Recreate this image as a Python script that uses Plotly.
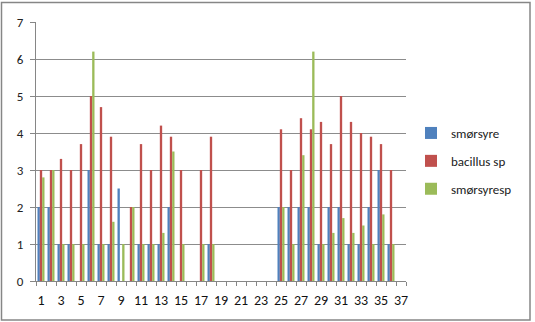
import plotly.graph_objects as go

categories = list(range(1, 38))
smorsyre = [2, 2, 1, 1, None, 3, 1, 1, 2.5, None, 1, 1, 1, 2, None, None, None, 1,
            None, None, None, None, None, None,
            2, 2, 2, 2, 1, 2, 2, 1, 1, 2, 3, 1, None]
bacillus = [3, 3, 3.3, 3, 3.7, 5, 4.7, 3.9, None, 2, 3.7, 3, 4.2, 3.9, 3, None, 3, 3.9,
            None, None, None, None, None, None,
            4.1, 3, 4.4, 4.1, 4.3, 3.7, 5, 4.3, 4, 3.9, 3.7, 3, None]
smorsyresp = [2.8, 3, 1, 1, 1, 6.2, 1, 1.6, 1, 2, 1, 1, 1.3, 3.5, 1, None, 1, 1,
              None, None, None, None, None, None,
              2, 1, 3.4, 6.2, 1, 1.3, 1.7, 1.3, 1.5, 1, 1.8, 1, None]
series_names = ["smørsyre", "bacillus sp", "smørsyresp"]
colors = ["#4F81BD", "#C0504D", "#9BBB59"]
x_ticks = list(range(1, 38, 2))
y_ticks = list(range(0, 8))

W, H = 535, 322
L, R, T, B = 36, 406, 22, 281

fig = go.Figure()
for name, vals, c in zip(series_names, [smorsyre, bacillus, smorsyresp], colors):
    fig.add_trace(go.Bar(x=categories, y=vals, name=name, marker_color=c,
                         marker_line_width=0, legendgroup=name))

font = "Carlito, Calibri, Lato, sans-serif"
fig.update_layout(
    width=W, height=H,
    margin=dict(l=L, r=W - R, t=T, b=H - B),
    plot_bgcolor="white", paper_bgcolor="white",
    barmode="group", bargap=0.3, bargroupgap=0,
    font=dict(family=font, size=13, color="#222"),
    showlegend=True,
    legend=dict(x=(411 - L) / (R - L), xanchor="left", y=(B - 161) / (B - T), yanchor="middle",
                font=dict(size=13, color="#222"), itemwidth=30, tracegroupgap=8,
                bgcolor="rgba(0,0,0,0)"),
    xaxis=dict(range=[0.5, 37.5], tickmode="array", tickvals=x_ticks,
               ticktext=[str(v) for v in x_ticks], ticks="", showgrid=False,
               showline=True, linecolor="#868686", linewidth=1,
               tickfont=dict(size=14, color="#111"), ticklabelstandoff=6,
               minor=dict(tick0=0.5, dtick=1, ticks="outside", ticklen=4,
                          tickcolor="#868686", showgrid=False),
               zeroline=False, fixedrange=True),
    yaxis=dict(range=[0, 7], tickmode="array", tickvals=y_ticks, ticks="outside",
               ticklen=5, tickcolor="#868686", showgrid=True, gridcolor="#8c8c8c",
               gridwidth=1, showline=True, linecolor="#868686", linewidth=1,
               ticklabelstandoff=4,
               zeroline=False, tickfont=dict(size=13, color="#222"), fixedrange=True),
)

# outer chart-area border
pw, ph = R - L, B - T
fig.add_shape(type="rect", xref="paper", yref="paper",
              x0=(1.5 - L) / pw, x1=(530 - L) / pw,
              y0=(B - 320) / ph, y1=(B - 2.5) / ph,
              line=dict(color="#868686", width=1.5), fillcolor="rgba(0,0,0,0)", layer="below")

fig.write_html("out.html")
